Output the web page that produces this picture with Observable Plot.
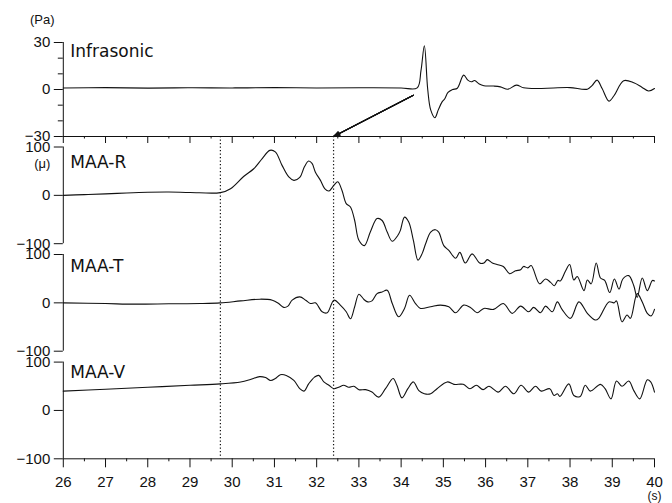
<!DOCTYPE html>
<html><head><meta charset="utf-8">
<script src="https://cdn.jsdelivr.net/npm/d3@7"></script>
<script src="https://cdn.jsdelivr.net/npm/@observablehq/plot@0.6"></script>
<style>body{margin:0;background:#fff}#chart svg{display:block;overflow:visible}</style>
</head><body><div id="chart"></div>
<script>
// ---- data ----
const timeTicks = [26,27,28,29,30,31,32,33,34,35,36,37,38,39,40];
const halfTicks = [26.5,27.5,28.5,29.5,30.5,31.5,32.5,33.5,34.5,35.5,36.5,37.5,38.5,39.5];
const panelNames = ["Infrasonic","MAA-R","MAA-T","MAA-V"];
const panelUnits = ["(Pa)","(μ)","",""];
const infraTicks = [30,0,-30];
const infraMinorTicks = [20,10,-10,-20];
const maaTicks = [100,0,-100];
const dottedTimes = [29.72, 32.40];
const arrowFrom = [34.29, -3.6];
const arrowTo = [32.40, -30];

const infraT = [26,27,28,29,30,31,32,33,34,34.38,34.47,34.55,34.63,34.70,34.80,34.88,34.97,35.03,35.11,35.22,35.33,35.48,35.58,35.66,35.74,35.85,35.96,36.19,36.35,36.53,36.73,36.90,37.22,37.61,38.0,38.41,38.52,38.64,38.76,38.92,39.04,39.27,39.51,39.70,39.86,40];
const infraV = [1,1.2,0.9,1.1,1,1.2,1,1.1,1,1,12,27.9,0,-13,-18,-13,-7.9,-6.1,-1.9,0,0.8,9.2,6,4.9,5.7,3.5,2.4,2.2,1.7,0.2,2.8,1.1,0.6,1,1.2,0.2,2.5,6,0.6,-7.4,-4,5.6,4.3,1.5,-1,0.6];

const maaRT = [26,26.5,27,27.5,28,28.5,29,29.72,29.96,30.27,30.51,30.71,30.89,31.02,31.18,31.34,31.46,31.60,31.71,31.81,31.89,31.97,32.09,32.19,32.29,32.41,32.50,32.60,32.70,32.80,32.90,33.00,33.13,33.27,33.43,33.55,33.67,33.79,33.92,33.98,34.08,34.18,34.29,34.40,34.50,34.58,34.70,34.81,34.89,35.01,35.13,35.29,35.39,35.52,35.68,35.86,35.96,36.04,36.16,36.27,36.42,36.57,36.71,36.83,36.90,37.00,37.08,37.28,37.42,37.54,37.63,37.71,37.77,37.89,37.99,38.09,38.17,38.33,38.41,38.50,38.62,38.72,38.82,38.94,39.05,39.16,39.25,39.39,39.51,39.59,39.71,39.83,39.95,40];
const maaRV = [0,1.5,3,5,6.5,7,6,5.6,13.8,39,55,76,93,90,62,38,31,37,59,71,66,48,31,14,9,21,28,10,-17,-24,-52,-93,-104,-76,-48,-52,-76,-95,-83,-73,-45,-55,-93,-134,-120,-100,-76,-71,-76,-104,-114,-130,-118,-140,-121,-140,-140,-133,-140,-143,-147,-162,-156,-154,-147,-150,-145,-183,-173,-180,-187,-176,-177,-157,-143,-175,-168,-197,-175,-183,-140,-171,-176,-201,-173,-194,-173,-166,-187,-211,-171,-197,-176,-177];

const maaTT = [26,27,27.7,28.5,29.25,29.72,30.20,30.67,30.95,31.10,31.22,31.32,31.42,31.60,31.74,31.85,31.97,32.13,32.25,32.41,32.56,32.70,32.80,32.90,33.00,33.12,33.21,33.31,33.43,33.55,33.67,33.79,33.94,34.08,34.20,34.34,34.46,34.70,34.93,35.13,35.29,35.48,35.64,35.80,35.96,36.19,36.42,36.63,36.83,37.02,37.14,37.30,37.42,37.58,37.70,37.81,38.01,38.21,38.41,38.60,38.68,38.92,39.04,39.10,39.23,39.35,39.43,39.59,39.71,39.83,39.92,40];
const maaTV = [0,-1.5,-2.7,-2,-1.4,0,4,7.6,5.5,-1.4,-9.4,-6.8,5.5,12.3,5.5,-1.4,0,-18.5,-20.5,5.5,-4.7,-18.5,-33,-8,17.8,7,2,4,19,22.5,26,-1.4,-28.7,-11.5,15.8,-1.4,-11.5,-8,-4.7,-8,-20.5,-4.7,-9.4,-20.5,-11.5,-13.5,-1.4,-21.7,-6.8,-18.5,-9.4,-20.5,-6.8,-18.5,2,-13.5,-32,2,-21.7,-35.5,-32,2,0,4,-39,-25,-32,19,2,-21.7,-27,-13.5];

const maaVT = [26,27,28,29,29.72,30.20,30.43,30.65,30.79,30.91,31.02,31.14,31.28,31.46,31.60,31.70,31.81,31.95,32.05,32.17,32.29,32.41,32.52,32.64,32.76,32.88,33.00,33.16,33.31,33.47,33.63,33.81,33.90,34.02,34.16,34.29,34.42,34.55,34.70,34.85,35.09,35.25,35.47,35.63,35.78,35.94,36.08,36.30,36.47,36.67,36.84,37.02,37.18,37.32,37.52,37.62,37.70,37.76,37.97,38.09,38.24,38.36,38.48,38.72,38.83,38.97,39.10,39.23,39.39,39.51,39.65,39.83,39.91,40];
const maaVV = [40,44,48,52,55,59,64,70,68,62,66,74,72.5,62,45,40,55,69,72.5,59,52,45,48,52,48,50,43,43,38,27.5,45,66,52,26,45,59,41,34.5,34.5,45,59,54,54,45,52,43,50,38,50,34.5,52,38,50,40,45,31,34.5,29,55,31,29,52,40,54,45,24,61,50,61,41,24,63.5,59,38];

// ---- layout ----
const W = 672, H = 503;
const yTopPx = 42, yBottomPx = 458.3;
const span = yBottomPx - yTopPx;
const panels = [
  {name: panelNames[0], unit: panelUnits[0], top: 0,     h: 94,   max: 30,  min: -30,  T: infraT, V: infraV, ticks: infraTicks, labelOff: 9,  unitOff: -23},
  {name: panelNames[1], unit: panelUnits[1], top: 104.5, h: 96.7, max: 100, min: -100, T: maaRT,  V: maaRV,  ticks: maaTicks,   labelOff: 16, unitOff: 17},
  {name: panelNames[2], unit: panelUnits[2], top: 212,   h: 96.7, max: 100, min: -100, T: maaTT,  V: maaTV,  ticks: maaTicks,   labelOff: 12, unitOff: 0},
  {name: panelNames[3], unit: panelUnits[3], top: 319.6, h: 96.7, max: 100, min: -100, T: maaVT,  V: maaVV,  ticks: maaTicks,   labelOff: 10, unitOff: 0}
];
const U = (p, v) => p.top + (p.max - v) / (p.max - p.min) * p.h;
const bottomOf = p => p.top + p.h;
const fmt = v => (v < 0 ? "\u2212" + Math.abs(v) : String(v));

const lineData = panels.flatMap((p, k) => p.T.map((t, i) => ({k, t, u: U(p, p.V[i])})));
const tickRows = panels.flatMap(p => p.ticks.map(v => ({u: U(p, v), label: fmt(v)})));
const labelMap = new Map(tickRows.map(d => [Math.round(d.u * 1000), d.label]));
const minorU = infraMinorTicks.map(v => U(panels[0], v));
const infraBottom = bottomOf(panels[0]);
const lastBottom = bottomOf(panels[3]);
const arrowRow = {x1: arrowFrom[0], y1: U(panels[0], arrowFrom[1]), x2: arrowTo[0], y2: U(panels[0], arrowTo[1])};
const ink = "#111";

const arrows = [10, 20, 30, 40].map(a => Plot.arrow([arrowRow], {x1: "x1", y1: "y1", x2: "x2", y2: "y2", headLength: 9, headAngle: a, stroke: ink, strokeWidth: 1.1}));

const chart = Plot.plot({
  width: W, height: H,
  marginTop: yTopPx, marginBottom: H - yBottomPx, marginLeft: 62.8, marginRight: 18,
  style: {fontFamily: "'Liberation Sans', Arial, sans-serif", fontSize: "15px", background: "#fff", color: ink},
  x: {domain: [timeTicks[0], timeTicks[timeTicks.length - 1]]},
  y: {domain: [span, 0]},
  marks: [
    // dotted markers
    Plot.ruleX(dottedTimes, {x: d => d, y1: () => infraBottom, y2: () => lastBottom, stroke: ink, strokeWidth: 1.2, strokeDasharray: "1.2,2.3"}),
    // panel vertical axis lines
    Plot.ruleX(panels, {x: () => timeTicks[0], y1: d => d.top, y2: d => bottomOf(d), stroke: ink, strokeWidth: 1}),
    // infrasonic bottom line + ticks
    Plot.ruleY([infraBottom], {stroke: ink, strokeWidth: 1}),
    Plot.ruleX(timeTicks, {x: d => d, y1: () => infraBottom, y2: () => infraBottom + 7, stroke: ink}),
    Plot.ruleX(halfTicks, {x: d => d, y1: () => infraBottom, y2: () => infraBottom + 2.5, stroke: ink}),
    // bottom x axis
    Plot.ruleY([lastBottom], {stroke: ink, strokeWidth: 1}),
    Plot.axisX(timeTicks, {tickSize: 9, tickFormat: () => "", label: null, stroke: ink}),
    Plot.axisX(halfTicks, {tickSize: 3, tickFormat: () => "", label: null, stroke: ink}),
    Plot.text(timeTicks, {x: d => d, y: () => lastBottom, dy: 23, text: d => String(d), lineAnchor: "middle", fontSize: 15, fill: ink}),
    // y axes
    Plot.axisY(tickRows.map(d => d.u), {tickSize: 9, tickPadding: 4, fontSize: 15, label: null, tickFormat: d => labelMap.get(Math.round(d * 1000)), stroke: ink}),
    Plot.axisY(minorU, {tickSize: 5, tickFormat: () => "", label: null, stroke: ink}),
    // waveforms
    Plot.line(lineData, {x: "t", y: "u", z: "k", curve: "catmull-rom", stroke: ink, strokeWidth: 1.1}),
    // arrow
    ...arrows,
    // panel labels
    Plot.text(panels, {x: () => timeTicks[0], y: d => d.top + d.labelOff, text: "name", dx: 7, textAnchor: "start", lineAnchor: "middle", fontFamily: "'DejaVu Sans', sans-serif", fontSize: 17, fill: ink}),
    Plot.text(panels.filter(p => p.unit), {x: () => timeTicks[0], y: d => d.top + d.unitOff, text: "unit", dx: -21, textAnchor: "middle", lineAnchor: "middle", fontSize: 13, fill: ink}),
    Plot.text(["(s)"], {x: () => timeTicks[timeTicks.length - 1], y: () => lastBottom + 37, text: d => d, lineAnchor: "middle", fontSize: 12, fill: ink})
  ]
});
document.getElementById("chart").appendChild(chart);
</script>
</body></html>
